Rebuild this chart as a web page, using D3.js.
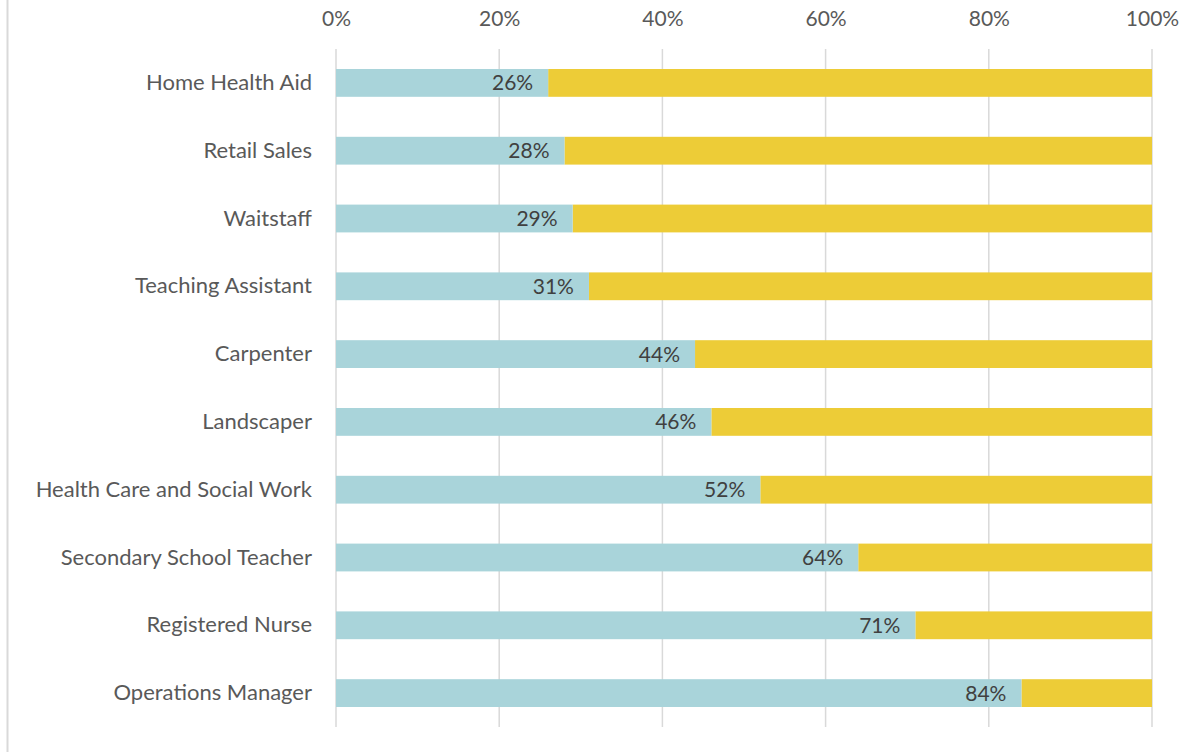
<!DOCTYPE html>
<html>
<head>
<meta charset="utf-8">
<script src="https://cdn.jsdelivr.net/npm/d3@7"></script>
<style>
  body { margin: 0; background: #fff; }
  text { font-family: Lato, "Open Sans", sans-serif; }
</style>
</head>
<body>
<div id="chart"></div>
<script>
// data
var categories = ["Home Health Aid", "Retail Sales", "Waitstaff", "Teaching Assistant",
  "Carpenter", "Landscaper", "Health Care and Social Work", "Secondary School Teacher",
  "Registered Nurse", "Operations Manager"];
var shareValues = [26, 28, 29, 31, 44, 46, 52, 64, 71, 84];
var tickValues = [0, 20, 40, 60, 80, 100];

var width = 1196, height = 752;
var margin = {top: 49, right: 44, bottom: 25, left: 336};

var svg = d3.select("#chart").append("svg")
  .attr("width", width)
  .attr("height", height);

// left frame line
svg.append("line")
  .attr("x1", 7.5).attr("x2", 7.5)
  .attr("y1", 0).attr("y2", height)
  .attr("stroke", "#d9d9d9")
  .attr("stroke-width", 2);

var x = d3.scaleLinear().domain([0, 100]).range([margin.left, width - margin.right]);
var y = d3.scaleBand().domain(categories)
  .range([margin.top, height - margin.bottom])
  .paddingInner(0.59).paddingOuter(0.295);

// gridlines
svg.append("g")
  .selectAll("line")
  .data(tickValues)
  .enter().append("line")
  .attr("x1", function(d) { return x(d); })
  .attr("x2", function(d) { return x(d); })
  .attr("y1", margin.top)
  .attr("y2", height - margin.bottom)
  .attr("stroke", "#d9d9d9")
  .attr("stroke-width", 1.5);

// top axis labels
var xAxis = svg.append("g")
  .attr("transform", "translate(0," + (margin.top - 27) + ")")
  .call(d3.axisTop(x).tickValues(tickValues).tickSize(0).tickFormat(function(d) { return d + "%"; }));
xAxis.select(".domain").remove();
xAxis.selectAll("text")
  .attr("fill", "#595959")
  .style("font-size", "21px")
  .attr("dy", "0.35em");

// category labels
var yAxis = svg.append("g")
  .attr("transform", "translate(" + (margin.left - 24) + ",0)")
  .call(d3.axisLeft(y).tickSize(0).tickPadding(0));
yAxis.select(".domain").remove();
yAxis.selectAll("text")
  .attr("fill", "#595959")
  .style("font-size", "22px");

var rows = svg.append("g")
  .selectAll("g")
  .data(categories)
  .enter().append("g");

// yellow remainder
rows.append("rect")
  .attr("x", function(d, i) { return x(shareValues[i]); })
  .attr("y", function(d) { return y(d); })
  .attr("width", function(d, i) { return x(100) - x(shareValues[i]); })
  .attr("height", y.bandwidth())
  .attr("fill", "#edcc37");

// blue share
rows.append("rect")
  .attr("x", x(0))
  .attr("y", function(d) { return y(d); })
  .attr("width", function(d, i) { return x(shareValues[i]) - x(0); })
  .attr("height", y.bandwidth())
  .attr("fill", "#a9d4da");

// value labels
rows.append("text")
  .attr("x", function(d, i) { return x(shareValues[i]) - 15; })
  .attr("y", function(d) { return y(d) + y.bandwidth() / 2; })
  .attr("dy", "0.36em")
  .attr("text-anchor", "end")
  .attr("fill", "#404040")
  .style("font-size", "21px")
  .text(function(d, i) { return shareValues[i] + "%"; });
</script>
</body>
</html>
